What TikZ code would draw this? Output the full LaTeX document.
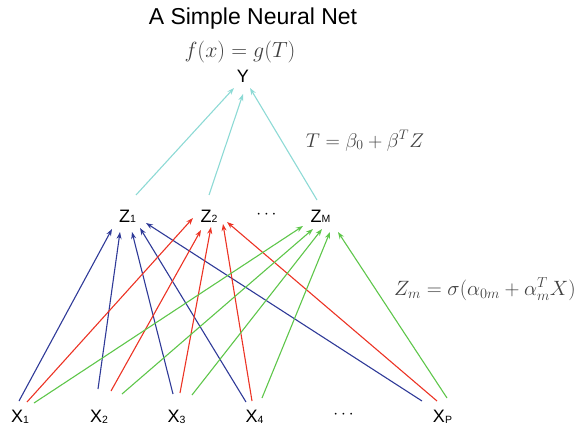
\documentclass[tikz,border=0pt]{standalone}
\usepackage{fontspec}
\setmainfont{Liberation Sans}
\usepackage{graphicx}
\usepackage{tikz}
\usetikzlibrary{arrows.meta}

\definecolor{netblue}{HTML}{2F3A98}
\definecolor{netred}{HTML}{EC3324}
\definecolor{netgreen}{HTML}{5EC64A}
\definecolor{netcyan}{HTML}{8DDAD5}
\definecolor{mathgray}{HTML}{404040}

\newcommand{\lsub}[1]{\raisebox{-1pt}{\fontsize{10.5}{10.5}\selectfont #1}}

\tikzset{
  unit/.style={font=\fontsize{18}{18}\selectfont, inner sep=0pt, anchor=base},
  eqn/.style={font=\fontsize{18}{18}\selectfont, text=mathgray, inner sep=0pt, anchor=base},
  edge/.style={line width=1.1pt, -{Stealth[length=7pt,width=5pt]}},
  blueedge/.style={edge, draw=netblue},
  rededge/.style={edge, draw=netred},
  greenedge/.style={edge, draw=netgreen},
  cyanedge/.style={edge, draw=netcyan}
}

\begin{document}
\begin{tikzpicture}[x=1pt, y=-1pt]
  \useasboundingbox (0,0) rectangle (579,428);

  % Labels
  \node[inner sep=0pt, anchor=base, font=\fontsize{23}{23}\selectfont] (title) at (253,25) {A Simple Neural Net};
  \node[eqn] (fout) at (240,58) {\scalebox{1.27}{$f(x) = g(T)$}};
  \node[eqn] (tsum) at (365,147) {\scalebox{1.15}{$T = \beta_0 + \beta^T Z$}};
  \node[eqn] (zsum) at (485,295) {\scalebox{1.2}{$Z_m = \sigma(\alpha_{0m} + \alpha_m^T X)$}};

  % Nodes
  \node[unit] (y) at (243,83) {Y};
  \node[unit] (z1) at (127.5,222) {Z\lsub{1}};
  \node[unit] (z2) at (209,222) {Z\lsub{2}};
  \node[unit] (zdots) at (266.5,218) {$\cdots$};
  \node[unit] (zm) at (320.5,222) {Z\lsub{M}};
  \node[unit] (x1) at (20,422) {X\lsub{1}};
  \node[unit] (x2) at (99,422) {X\lsub{2}};
  \node[unit] (x3) at (176.5,422) {X\lsub{3}};
  \node[unit] (x4) at (254.5,422) {X\lsub{4}};
  \node[unit] (xdots) at (343.5,418) {$\cdots$};
  \node[unit] (xp) at (442.5,422) {X\lsub{P}};

  % Hidden to output
  \draw[cyanedge] ([shift={(8.5,-27)}]z1.base) -- ([shift={(-9,5)}]y.base);
  \draw[cyanedge] ([shift={(0,-27)}]z2.base) -- ([shift={(0,11)}]y.base);
  \draw[cyanedge] ([shift={(-3.5,-22)}]zm.base) -- ([shift={(7,5)}]y.base);

  % Inputs to Z1
  \draw[blueedge] ([shift={(-1,-21)}]x1.base) -- ([shift={(-15.5,7)}]z1.base);
  \draw[blueedge] ([shift={(-1,-33)}]x2.base) -- ([shift={(-7.5,10)}]z1.base);
  \draw[blueedge] ([shift={(-3.5,-28)}]x3.base) -- ([shift={(4.5,10)}]z1.base);
  \draw[blueedge] ([shift={(-8.5,-20)}]x4.base) -- ([shift={(12.5,6)}]z1.base);
  \draw[blueedge] ([shift={(-20.5,-21)}]xp.base) -- ([shift={(18.5,1)}]z1.base);

  % Inputs to Z2
  \draw[rededge] ([shift={(7,-20)}]x1.base) -- ([shift={(-16,-4)}]z2.base);
  \draw[rededge] ([shift={(12,-31)}]x2.base) -- ([shift={(-8,8)}]z2.base);
  \draw[rededge] ([shift={(3.5,-29)}]x3.base) -- ([shift={(2,5)}]z2.base);
  \draw[rededge] ([shift={(-2.5,-21)}]x4.base) -- ([shift={(14,2)}]z2.base);
  \draw[rededge] ([shift={(-5.5,-21)}]xp.base) -- ([shift={(18,0)}]z2.base);

  % Inputs to ZM
  \draw[greenedge] ([shift={(14,-19)}]x1.base) -- ([shift={(-17.5,4)}]zm.base);
  \draw[greenedge] ([shift={(23,-28)}]x2.base) -- ([shift={(-7.5,7)}]zm.base);
  \draw[greenedge] ([shift={(15.5,-27)}]x3.base) -- ([shift={(1.5,7)}]zm.base);
  \draw[greenedge] ([shift={(7.5,-24)}]x4.base) -- ([shift={(9.5,10)}]zm.base);
  \draw[greenedge] ([shift={(4.5,-24)}]xp.base) -- ([shift={(17.5,10)}]zm.base);
\end{tikzpicture}
\end{document}
